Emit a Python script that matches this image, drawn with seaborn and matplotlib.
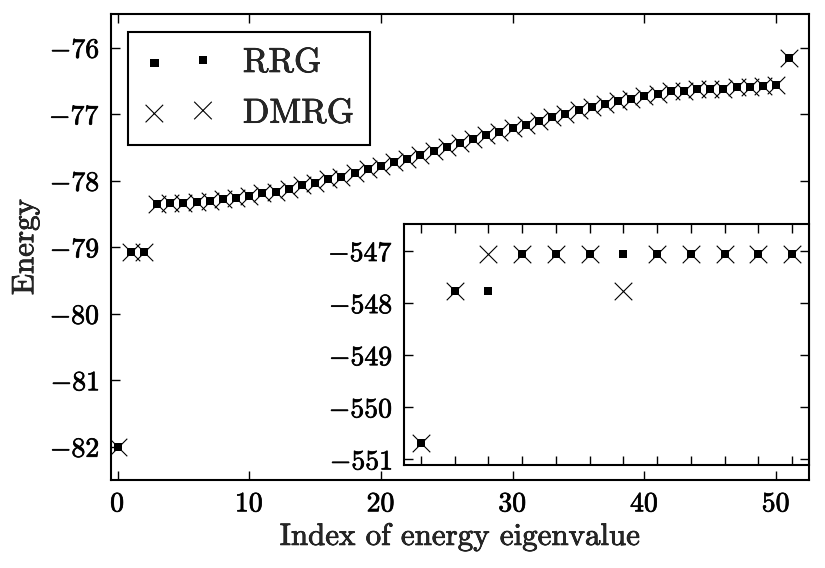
import matplotlib
matplotlib.use("Agg")
import matplotlib.pyplot as plt
import matplotlib.patheffects as pe
import seaborn as sns
import pandas as pd
import numpy as np

# ---- data ----
main_index = list(range(52))
rrg_main = [-82.00, -79.07, -79.07,
            -78.35, -78.34, -78.33, -78.32, -78.31, -78.28, -78.26, -78.23,
            -78.19, -78.17, -78.12, -78.07, -78.04, -77.98, -77.94, -77.88,
            -77.83, -77.78, -77.72, -77.67, -77.61, -77.55, -77.50, -77.44,
            -77.38, -77.32, -77.27, -77.21, -77.16, -77.10, -77.05, -77.00,
            -76.94, -76.90, -76.85, -76.80, -76.77, -76.73, -76.70, -76.66,
            -76.65, -76.63, -76.63, -76.62, -76.60, -76.59, -76.58, -76.57,
            -76.16]
dmrg_main = list(rrg_main)

inset_index = list(range(12))
rrg_inset = [-550.69, -547.77, -547.77, -547.05, -547.05, -547.05,
             -547.05, -547.05, -547.05, -547.05, -547.05, -547.05]
dmrg_inset = [-550.69, -547.77, -547.05, -547.05, -547.05, -547.05,
              -547.77, -547.05, -547.05, -547.05, -547.05, -547.05]

main_xticks = [0, 10, 20, 30, 40, 50]
main_yticks = [-82, -81, -80, -79, -78, -77, -76]
inset_yticks = [-551, -550, -549, -548, -547]

sns.set_style("ticks")
plt.rcParams.update({
    "font.family": ["cmr10", "DejaVu Serif"],
    "mathtext.fontset": "cm",
    "axes.formatter.use_mathtext": True,
    "axes.unicode_minus": True,
    "axes.linewidth": 1.5,
    "axes.edgecolor": "black",
    "xtick.direction": "in",
    "ytick.direction": "in",
    "xtick.top": True,
    "ytick.right": True,
    "xtick.major.size": 6.5,
    "ytick.major.size": 6.5,
    "xtick.major.width": 1.0,
    "ytick.major.width": 1.0,
    "xtick.color": "black",
    "ytick.color": "black",
})

df_main = pd.DataFrame({"idx": main_index, "RRG": rrg_main, "DMRG": dmrg_main})
df_inset = pd.DataFrame({"idx": inset_index, "RRG": rrg_inset, "DMRG": dmrg_inset})

fig = plt.figure(figsize=(8.25, 5.68), dpi=100)
ax = fig.add_axes([0.1345, 0.155, 0.8461, 0.8198])

sq_size = 38
x_size = 160

sns.scatterplot(data=df_main, x="idx", y="RRG", marker="s", s=sq_size,
                color="black", edgecolor="black", linewidth=0, ax=ax, label="RRG")
sns.scatterplot(data=df_main, x="idx", y="DMRG", marker="x", s=x_size,
                color="black", linewidth=0.8, ax=ax, label="DMRG")

ax.set_xlim(-0.5, 52.5)
ax.set_ylim(-82.5, -75.5)
ax.set_xticks(main_xticks)
ax.set_yticks(main_yticks)
ax.tick_params(labelsize=20, pad=8)
ax.set_xlabel("Index of energy eigenvalue", fontsize=22.3, labelpad=4)
ax.set_ylabel("Energy", fontsize=22.3, labelpad=7)

leg = ax.legend(loc="upper left", scatterpoints=2, fontsize=25, frameon=True,
                fancybox=False, edgecolor="black", framealpha=1,
                borderpad=0.45, handlelength=2.0, handletextpad=0.85,
                labelspacing=0.55, borderaxespad=0.5)
leg.get_frame().set_linewidth(1.5)

# ---- inset ----
axi = fig.add_axes([0.4897, 0.1813, 0.4909, 0.4237])
sns.scatterplot(data=df_inset, x="idx", y="RRG", marker="s", s=sq_size,
                color="black", edgecolor="black", linewidth=0, ax=axi, legend=False)
sns.scatterplot(data=df_inset, x="idx", y="DMRG", marker="x", s=x_size,
                color="black", linewidth=0.8, ax=axi, legend=False)
axi.set_xlim(-0.5, 11.5)
axi.set_ylim(-551.11, -546.49)
axi.set_xticks(inset_index)
axi.set_xticklabels([])
axi.set_yticks(inset_yticks)
axi.tick_params(labelsize=20, pad=8)
axi.set_xlabel("")
axi.set_ylabel("")

# slightly heavier text, like the reference's Computer Modern rendering
stroke = [pe.withStroke(linewidth=0.5, foreground="black")]
texts = (ax.get_xticklabels() + ax.get_yticklabels() + axi.get_yticklabels()
         + [ax.xaxis.label, ax.yaxis.label] + leg.get_texts())
for t in texts:
    t.set_path_effects(stroke)

fig.savefig("out.png", dpi=100)
